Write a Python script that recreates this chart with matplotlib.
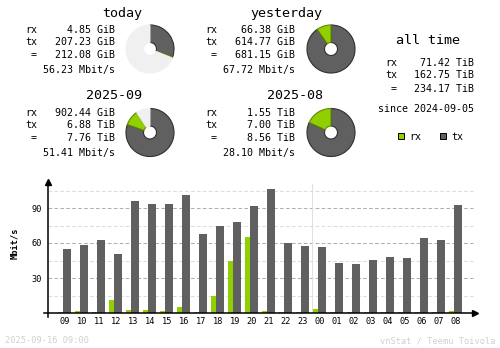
import matplotlib
matplotlib.use("Agg")
import matplotlib.pyplot as plt

plt.rcParams['font.family'] = ['DejaVu Sans Mono', 'DejaVu Sans']

W, H = 500, 348

# summary blocks (rx, tx, total, average rate)
today = ["4.85 GiB", "207.23 GiB", "212.08 GiB", "56.23 Mbit/s"]
yesterday = ["66.38 GiB", "614.77 GiB", "681.15 GiB", "67.72 Mbit/s"]
month_cur = ["902.44 GiB", "6.88 TiB", "7.76 TiB", "51.41 Mbit/s"]
month_prev = ["1.55 TiB", "7.00 TiB", "8.56 TiB", "28.10 Mbit/s"]
all_time = ["71.42 TiB", "162.75 TiB", "234.17 TiB"]
since = "since 2024-09-05"

# last 24 hours, average Mbit/s
hours = ["09", "10", "11", "12", "13", "14", "15", "16", "17", "18", "19", "20",
         "21", "22", "23", "00", "01", "02", "03", "04", "05", "06", "07", "08"]
rx_rate = [1.1, 2.0, 1.1, 11.4, 2.9, 2.9, 2.0, 5.4, 1.1, 14.9, 44.9, 65.4,
           2.0, 1.1, 1.1, 3.7, 1.1, 1.1, 1.1, 1.1, 1.1, 1.1, 1.1, 2.0]
tx_rate = [55.1, 58.6, 62.9, 50.9, 96.3, 93.7, 93.7, 101.4, 68.0, 74.9, 78.3, 92.0,
           106.6, 60.3, 57.7, 56.9, 43.1, 42.3, 45.7, 48.3, 47.4, 64.6, 62.9, 92.9]

RX = "#92CF00"
TX = "#606060"
RX_EDGE = "#5E8A00"
TX_EDGE = "#303030"
REST = "#F0F0F0"
GREY_TXT = "#D0D0D0"


def to_gib(s):
    v, unit = s.split()
    return float(v) * (1024 if unit == "TiB" else 1)


def px(x, y):
    return x / W, 1 - y / H


fig = plt.figure(figsize=(W / 100, H / 100), dpi=100)


def put(x, y, s, size, ha="left", **kw):
    fig.text(*px(x, y), s, fontsize=size, ha=ha, va="baseline", **kw)


def pie(cx, cy, vals, colors, edges):
    r = 24.5
    a = fig.add_axes([(cx - r) / W, 1 - (cy + r) / H, 2 * r / W, 2 * r / H])
    wedges, _ = a.pie(vals, colors=colors, startangle=90, counterclock=False,
                      radius=1, wedgeprops=dict(width=0.73, linewidth=0.8))
    for w, e in zip(wedges, edges):
        w.set_edgecolor(e)
    a.set_xlim(-1.02, 1.02)
    a.set_ylim(-1.02, 1.02)
    a.set_aspect("equal")
    a.axis("off")


def block(title, tcx, rows, lab_r, val_r, ys, ty):
    put(tcx, ty + 5, title, 9.6, ha="center")
    for lab, val, y in zip(["rx", "tx", "="], rows[:3], ys[:3]):
        put(lab_r, y + 3.6, lab, 7.2, ha="right")
        put(val_r, y + 3.6, val, 7.2, ha="right")
    put(val_r, ys[3] + 3.6, rows[3], 7.2, ha="right")


top_rows = [29, 41, 54, 69]
bot_rows = [112, 124, 137, 152]
block("today", 122, today, 37, 115, top_rows, 12)
block("yesterday", 286, yesterday, 217, 295, top_rows, 12)
block("2025-09", 114, month_cur, 37, 115, bot_rows, 94)
block("2025-08", 295, month_prev, 217, 295, bot_rows, 94)

# pies: tx first clockwise from the top, then rx, rest compared to the previous period
t_rx, t_tx, t_tot = (to_gib(v) for v in today[:3])
y_rx, y_tx, y_tot = (to_gib(v) for v in yesterday[:3])
m_rx, m_tx, m_tot = (to_gib(v) for v in month_cur[:3])
p_rx, p_tx, p_tot = (to_gib(v) for v in month_prev[:3])
pie(150, 49, [t_tx, t_rx, y_tot - t_tot], [TX, RX, REST], [TX_EDGE, RX_EDGE, REST])
pie(331, 49, [y_tx, y_rx], [TX, RX], [TX_EDGE, RX_EDGE])
pie(150, 132.5, [m_tx, m_rx, p_tot - m_tot], [TX, RX, REST], [TX_EDGE, RX_EDGE, REST])
pie(331, 132.5, [p_tx, p_rx], [TX, RX], [TX_EDGE, RX_EDGE])

# all time block
put(428, 39 + 5, "all time", 9.6, ha="center")
for lab, val, y in zip(["rx", "tx", "="], all_time, [62, 74, 88]):
    put(397, y + 3.6, lab, 7.2, ha="right")
    put(474, y + 3.6, val, 7.2, ha="right")
put(426, 108 + 3.6, since, 7.2, ha="center")

# legend
for sx, lab, c, e in [(398, "rx", RX, RX_EDGE), (440, "tx", TX, TX_EDGE)]:
    fig.patches.append(plt.Rectangle(px(sx, 139), 6 / W, 6 / H, facecolor=c,
                                     edgecolor="black", linewidth=0.7,
                                     transform=fig.transFigure))
    put(sx + 11, 136 + 3.6, lab, 7.2)

# hourly chart
ax = fig.add_axes([48 / W, 35 / H, 429 / W, 133 / H])
ax.set_xlim(-1, 24.235)
ax.set_ylim(0, 114)
for s in ax.spines.values():
    s.set_visible(False)

x = list(range(len(hours)))
for g in [15, 45, 75, 105]:
    ax.plot([-1, 24], [g, g], color="#DCDCDC", lw=0.75, ls=(0, (3.5, 2.2)), zorder=1)
for g in [30, 60, 90]:
    ax.plot([-1, 24], [g, g], color="#B0B0B0", lw=0.75, ls=(0, (3.5, 2.2)), zorder=1)
ax.plot([14.5, 14.5], [0, 110.6], color="#E0E0E0", lw=0.75, zorder=1)

ax.bar([i - 4.5 / 17 for i in x], rx_rate, width=5 / 17, color=RX, zorder=2)
ax.bar([i + 2 / 17 for i in x], tx_rate, width=8 / 17, color=TX, zorder=2)

# axes with arrow heads
ax.plot([-1, -1], [-3.4, 112], color="black", lw=1.1, clip_on=False, zorder=3)
ax.plot([-1.24, 24.1], [0, 0], color="black", lw=1.1, clip_on=False, zorder=3)
ax.plot([-1], [112], marker="^", color="black", ms=4, clip_on=False, zorder=3)
ax.plot([24.1], [0], marker=">", color="black", ms=4, clip_on=False, zorder=3)

ax.set_xticks(x, hours)
ax.set_yticks([30, 60, 90], ["30", "60", "90"])
ax.tick_params(axis="x", length=0, pad=3, labelsize=6.2)
ax.tick_params(axis="y", length=0, pad=4, labelsize=6.2)

fig.text(*px(14.5, 243), "Mbit/s", fontsize=6.2, rotation=90, ha="center",
         va="center", fontweight="bold")

put(5, 343, "2025-09-16 09:00", 6.2, color=GREY_TXT)
put(495, 343, "vnStat / Teemu Toivola", 6.2, ha="right", color=GREY_TXT)

fig.savefig("out.png", dpi=100)
